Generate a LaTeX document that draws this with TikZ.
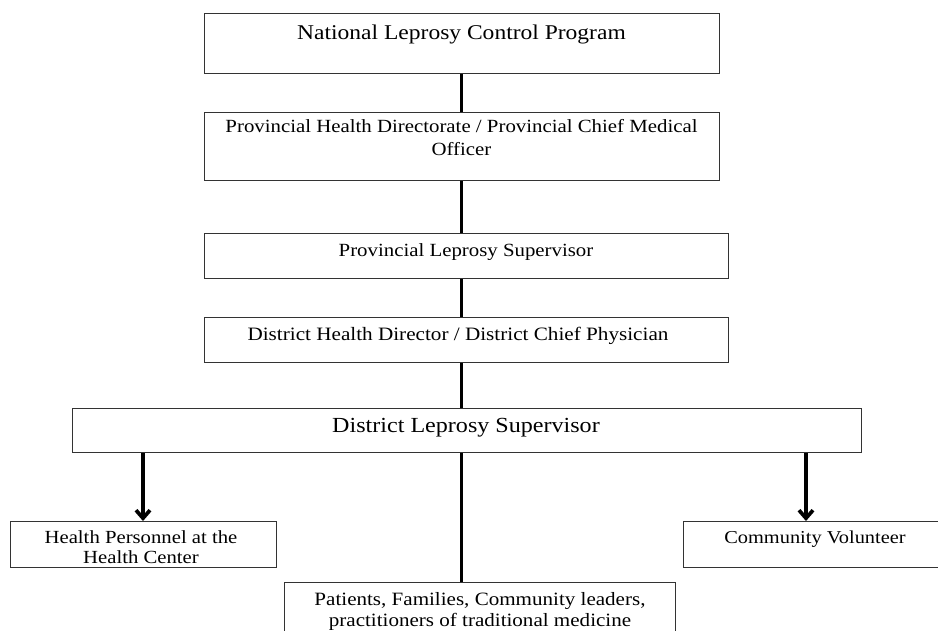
\documentclass[tikz,border=0pt]{standalone}
\usepackage{fontspec}
\setmainfont{Liberation Serif}
\usepackage{graphicx}
\usetikzlibrary{arrows.meta}
\newcommand{\boxtxt}[3]{\fontsize{#1}{#2}\selectfont\scalebox{1.12}[1]{\begin{tabular}[t]{@{}c@{}}#3\end{tabular}}}
\begin{document}
\begin{tikzpicture}[x=1pt,y=-1pt,
  box/.style={draw=black!80, line width=1.3pt, fill=white, inner sep=0pt, anchor=north west},
  txt/.style={inner sep=0pt, anchor=base, text=black},
  conn/.style={draw=black, line width=3.7pt},
  arr/.style={conn, -{Straight Barb[length=8pt,width=14pt]}}]
\useasboundingbox (0,0) rectangle (938,630);
\clip (0,0) rectangle (938,630);
% boxes
\node[box, minimum width=515pt, minimum height=60pt] (b1) at (204,13) {};
\node[box, minimum width=515pt, minimum height=68pt] (b2) at (204,112) {};
\node[box, minimum width=524pt, minimum height=45pt] (b3) at (204,233) {};
\node[box, minimum width=524pt, minimum height=45pt] (b4) at (204,317) {};
\node[box, minimum width=789pt, minimum height=44pt] (b5) at (72,408) {};
\node[box, minimum width=266pt, minimum height=46pt] (hp) at (10,521) {};
\node[box, minimum width=270pt, minimum height=46pt] (cv) at (683,521) {};
\node[box, minimum width=391pt, minimum height=70pt] (pf) at (284,582) {};
% connector columns
\coordinate (cx) at (461.5,0);
\coordinate (lx) at (143,0);
\coordinate (rx) at (806,0);
% connectors
\draw[conn] (b1.south -| cx) -- (b2.north -| cx);
\draw[conn] (b2.south -| cx) -- (b3.north -| cx);
\draw[conn] (b3.south -| cx) -- (b4.north -| cx);
\draw[conn] (b4.south -| cx) -- (b5.north -| cx);
\draw[conn] (b5.south -| cx) -- (pf.north -| cx);
\draw[arr] (b5.south -| lx) -- (hp.north -| lx);
\draw[arr] (b5.south -| rx) -- (cv.north -| rx);
% texts
\node[txt] (t1) at (461.5,39) {\boxtxt{21}{24}{National Leprosy Control Program}};
\node[txt] (t2) at (461.5,132) {\boxtxt{18.6}{23.5}{Provincial Health Directorate / Provincial Chief Medical\\Officer}};
\node[txt] (t3) at (466,256) {\boxtxt{18.6}{21}{Provincial Leprosy Supervisor}};
\node[txt] (t4) at (458,340) {\boxtxt{18.9}{21}{District Health Director / District Chief Physician}};
\node[txt] (t5) at (466,432) {\boxtxt{21.5}{24}{District Leprosy Supervisor}};
\node[txt] (t6) at (141,543) {\boxtxt{18.5}{20.5}{Health Personnel at the\\Health Center}};
\node[txt] (t7) at (815,543) {\boxtxt{18.2}{20}{Community Volunteer}};
\node[txt] (t8) at (480,605) {\boxtxt{18.8}{21}{Patients, Families, Community leaders,\\practitioners of traditional medicine}};
\end{tikzpicture}
\end{document}
